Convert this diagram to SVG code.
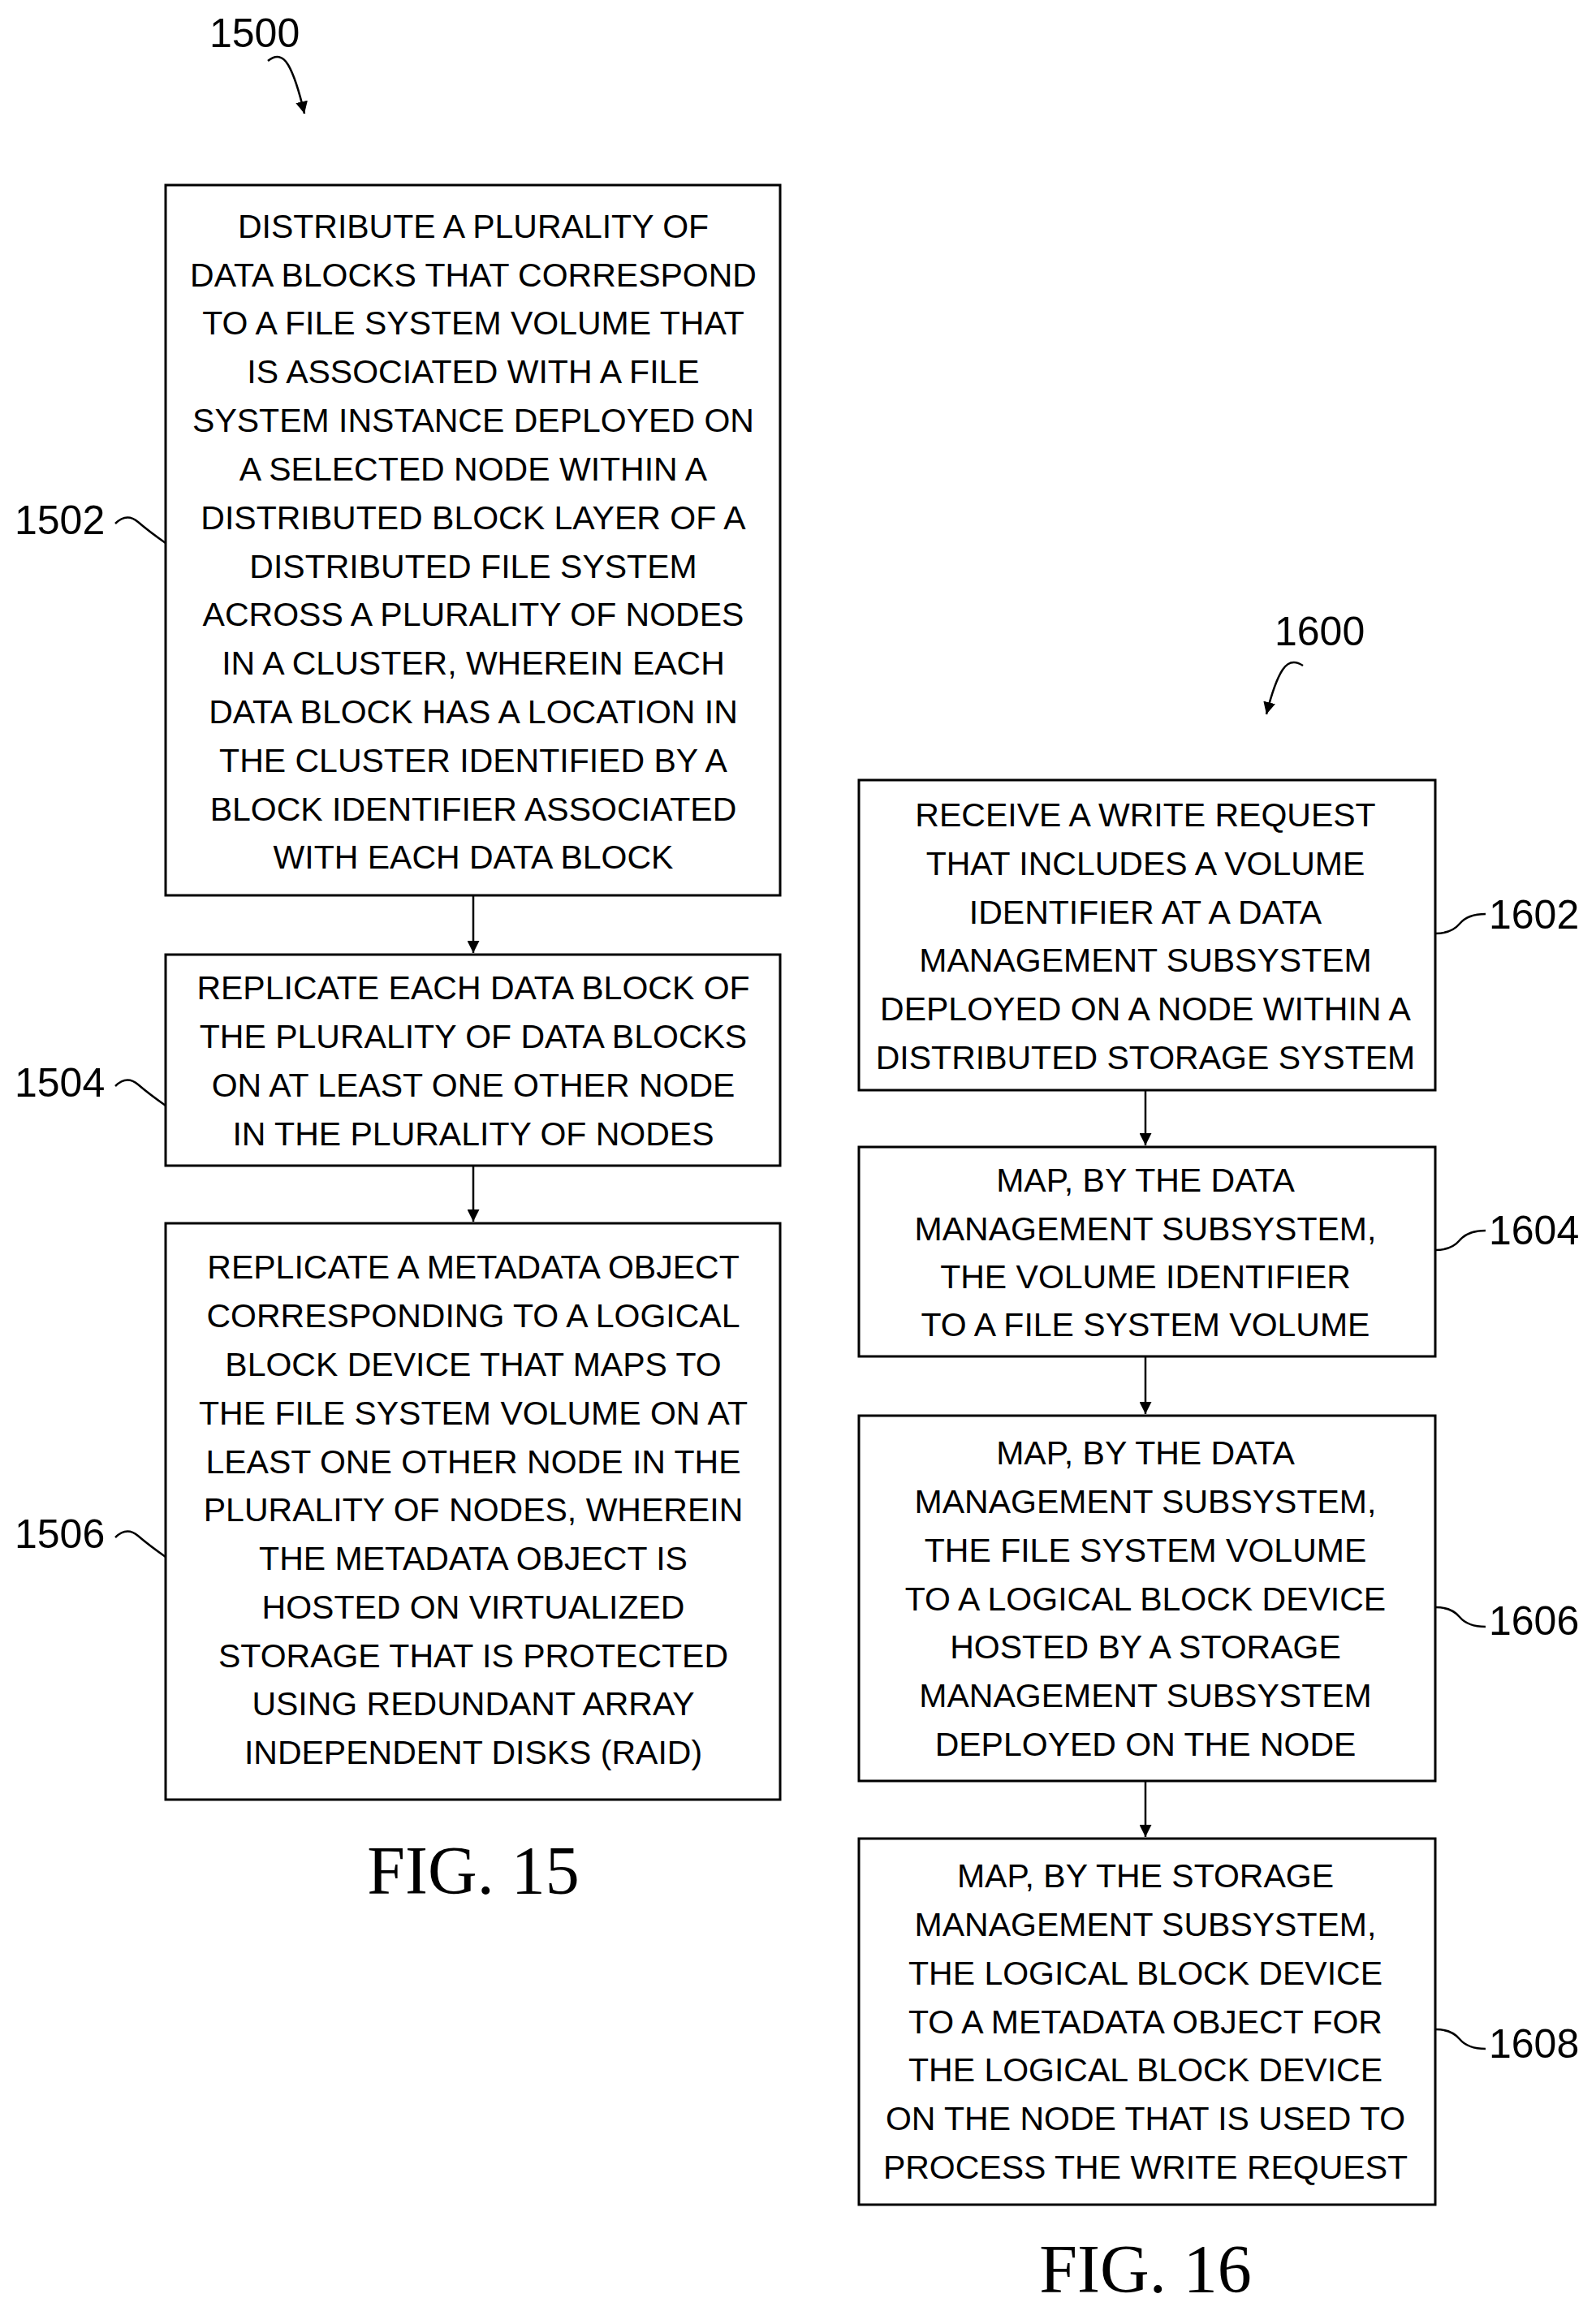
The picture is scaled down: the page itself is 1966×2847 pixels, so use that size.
<svg xmlns="http://www.w3.org/2000/svg" width="1966" height="2847" viewBox="0 0 1966 2847">
<style>
.b{fill:#fff;stroke:#000;stroke-width:3}
.t{font-family:"Liberation Sans",Arial,sans-serif;font-size:41px;text-anchor:middle;fill:#000}
.l{font-family:"Liberation Sans",Arial,sans-serif;font-size:50px;fill:#000}
.f{font-family:"Liberation Serif","Times New Roman",serif;font-size:84px;text-anchor:middle;fill:#000}
.c{fill:none;stroke:#000;stroke-width:2.5}
</style>
<defs><marker id="a" viewBox="0 0 10 10" refX="10" refY="5" markerWidth="6" markerHeight="6" orient="auto"><path d="M0,0L10,5L0,10z"/></marker></defs>
<rect width="1966" height="2847" fill="#fff"/>
<g id="connectors">
<line class="c" x1="583" y1="1103" x2="583" y2="1174" marker-end="url(#a)"/>
<line class="c" x1="583" y1="1436" x2="583" y2="1505" marker-end="url(#a)"/>
<line class="c" x1="1411" y1="1343" x2="1411" y2="1411" marker-end="url(#a)"/>
<line class="c" x1="1411" y1="1671" x2="1411" y2="1742" marker-end="url(#a)"/>
<line class="c" x1="1411" y1="2194" x2="1411" y2="2263" marker-end="url(#a)"/>
<path class="c" d="M330,75 q15,-12 25,5 t20,60" marker-end="url(#a)"/>
<path class="c" d="M1605,820 q-15,-10 -25,5 t-20,55" marker-end="url(#a)"/>
<path class="c" d="M142,645 q14,-14 28,-2 t34,26"/>
<path class="c" d="M142,1338 q14,-14 28,-2 t34,26"/>
<path class="c" d="M142,1894 q14,-14 28,-2 t34,26"/>
<path class="c" d="M1768,1150 q20,0 30,-12 t32,-12"/>
<path class="c" d="M1768,1540 q20,0 30,-12 t32,-12"/>
<path class="c" d="M1768,1980 q20,0 30,12 t32,12"/>
<path class="c" d="M1768,2500 q20,0 30,12 t32,12"/>
</g>
<g id="label1500"><text class="l" x="258" y="58">1500</text></g>
<g id="label1600"><text class="l" x="1570" y="795">1600</text></g>
<g id="n1502"><rect class="b" x="204" y="228" width="757" height="875"/>
<text class="t"><tspan x="583" y="293">DISTRIBUTE A PLURALITY OF</tspan><tspan x="583" y="353">DATA BLOCKS THAT CORRESPOND</tspan><tspan x="583" y="412">TO A FILE SYSTEM VOLUME THAT</tspan><tspan x="583" y="472">IS ASSOCIATED WITH A FILE</tspan><tspan x="583" y="532">SYSTEM INSTANCE DEPLOYED ON</tspan><tspan x="583" y="592">A SELECTED NODE WITHIN A</tspan><tspan x="583" y="652">DISTRIBUTED BLOCK LAYER OF A</tspan><tspan x="583" y="712">DISTRIBUTED FILE SYSTEM</tspan><tspan x="583" y="771">ACROSS A PLURALITY OF NODES</tspan><tspan x="583" y="831">IN A CLUSTER, WHEREIN EACH</tspan><tspan x="583" y="891">DATA BLOCK HAS A LOCATION IN</tspan><tspan x="583" y="951">THE CLUSTER IDENTIFIED BY A</tspan><tspan x="583" y="1011">BLOCK IDENTIFIER ASSOCIATED</tspan><tspan x="583" y="1070">WITH EACH DATA BLOCK</tspan></text>
<text class="l" x="18" y="658">1502</text></g>
<g id="n1504"><rect class="b" x="204" y="1176" width="757" height="260"/>
<text class="t"><tspan x="583" y="1231">REPLICATE EACH DATA BLOCK OF</tspan><tspan x="583" y="1291">THE PLURALITY OF DATA BLOCKS</tspan><tspan x="583" y="1351">ON AT LEAST ONE OTHER NODE</tspan><tspan x="583" y="1411">IN THE PLURALITY OF NODES</tspan></text>
<text class="l" x="18" y="1351">1504</text></g>
<g id="n1506"><rect class="b" x="204" y="1507" width="757" height="710"/>
<text class="t"><tspan x="583" y="1575">REPLICATE A METADATA OBJECT</tspan><tspan x="583" y="1635">CORRESPONDING TO A LOGICAL</tspan><tspan x="583" y="1695">BLOCK DEVICE THAT MAPS TO</tspan><tspan x="583" y="1755">THE FILE SYSTEM VOLUME ON AT</tspan><tspan x="583" y="1815">LEAST ONE OTHER NODE IN THE</tspan><tspan x="583" y="1874">PLURALITY OF NODES, WHEREIN</tspan><tspan x="583" y="1934">THE METADATA OBJECT IS</tspan><tspan x="583" y="1994">HOSTED ON VIRTUALIZED</tspan><tspan x="583" y="2054">STORAGE THAT IS PROTECTED</tspan><tspan x="583" y="2113">USING REDUNDANT ARRAY</tspan><tspan x="583" y="2173">INDEPENDENT DISKS (RAID)</tspan></text>
<text class="l" x="18" y="1907">1506</text></g>
<g id="fig15"><text class="f" x="583" y="2333">FIG. 15</text></g>
<g id="n1602"><rect class="b" x="1058" y="961" width="710" height="382"/>
<text class="t"><tspan x="1411" y="1018">RECEIVE A WRITE REQUEST</tspan><tspan x="1411" y="1078">THAT INCLUDES A VOLUME</tspan><tspan x="1411" y="1138">IDENTIFIER AT A DATA</tspan><tspan x="1411" y="1197">MANAGEMENT SUBSYSTEM</tspan><tspan x="1411" y="1257">DEPLOYED ON A NODE WITHIN A</tspan><tspan x="1411" y="1317">DISTRIBUTED STORAGE SYSTEM</tspan></text>
<text class="l" x="1834" y="1144">1602</text></g>
<g id="n1604"><rect class="b" x="1058" y="1413" width="710" height="258"/>
<text class="t"><tspan x="1411" y="1468">MAP, BY THE DATA</tspan><tspan x="1411" y="1528">MANAGEMENT SUBSYSTEM,</tspan><tspan x="1411" y="1587">THE VOLUME IDENTIFIER</tspan><tspan x="1411" y="1646">TO A FILE SYSTEM VOLUME</tspan></text>
<text class="l" x="1834" y="1533">1604</text></g>
<g id="n1606"><rect class="b" x="1058" y="1744" width="710" height="450"/>
<text class="t"><tspan x="1411" y="1804">MAP, BY THE DATA</tspan><tspan x="1411" y="1864">MANAGEMENT SUBSYSTEM,</tspan><tspan x="1411" y="1924">THE FILE SYSTEM VOLUME</tspan><tspan x="1411" y="1984">TO A LOGICAL BLOCK DEVICE</tspan><tspan x="1411" y="2043">HOSTED BY A STORAGE</tspan><tspan x="1411" y="2103">MANAGEMENT SUBSYSTEM</tspan><tspan x="1411" y="2163">DEPLOYED ON THE NODE</tspan></text>
<text class="l" x="1834" y="2014">1606</text></g>
<g id="n1608"><rect class="b" x="1058" y="2265" width="710" height="451"/>
<text class="t"><tspan x="1411" y="2325">MAP, BY THE STORAGE</tspan><tspan x="1411" y="2385">MANAGEMENT SUBSYSTEM,</tspan><tspan x="1411" y="2445">THE LOGICAL BLOCK DEVICE</tspan><tspan x="1411" y="2505">TO A METADATA OBJECT FOR</tspan><tspan x="1411" y="2564">THE LOGICAL BLOCK DEVICE</tspan><tspan x="1411" y="2624">ON THE NODE THAT IS USED TO</tspan><tspan x="1411" y="2684">PROCESS THE WRITE REQUEST</tspan></text>
<text class="l" x="1834" y="2535">1608</text></g>
<g id="fig16"><text class="f" x="1411" y="2824">FIG. 16</text></g>
</svg>
